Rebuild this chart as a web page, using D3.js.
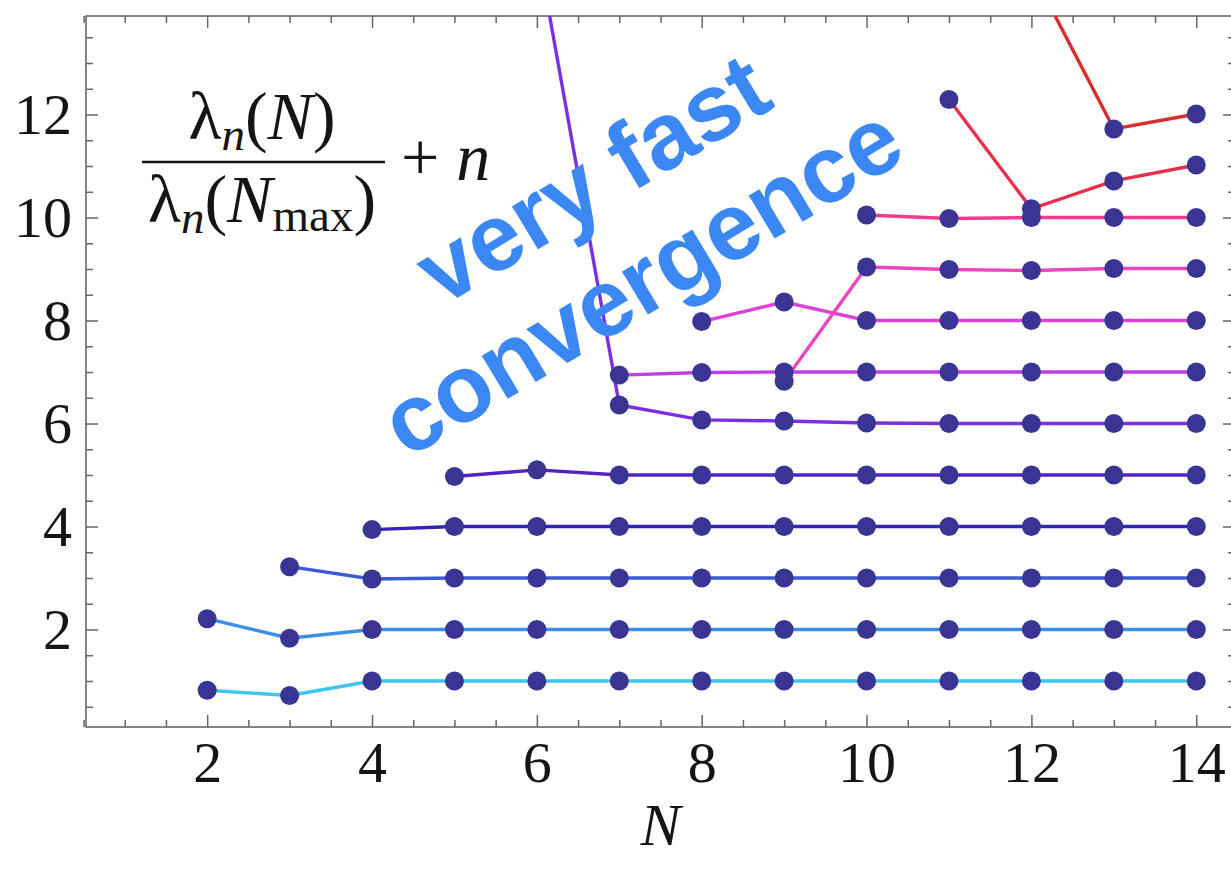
<!DOCTYPE html>
<html>
<head>
<meta charset="utf-8">
<script src="https://cdn.jsdelivr.net/npm/d3@7/dist/d3.min.js"></script>
<style>
  body { margin: 0; background: #fff; }
  .tick text { font-family: "Liberation Serif", "Times New Roman", serif; font-size: 58px; fill: #151515; }
  .tick line { stroke: #666; stroke-width: 1.5; }
  .formula { font-family: "Liberation Serif", "Times New Roman", serif; fill: #151515; }
</style>
</head>
<body>
<svg id="chart" width="1231" height="870"></svg>
<script>
// N values on the horizontal axis
var nValues = [2, 3, 4, 5, 6, 7, 8, 9, 10, 11, 12, 13, 14];

// the first N at which each level n = 1..12 appears
var startN = [2, 2, 3, 4, 5, 6, 7, 8, 9, 10, 11, 12];

// lambda_n(N) / lambda_n(Nmax) + n, one array per level
var level1 = [0.82, 0.72, 1.0, 1.0, 1.0, 1.0, 1.0, 1.0, 1.0, 1.0, 1.0, 1.0, 1.0];
var level2 = [2.21, 1.83, 2.0, 2.0, 2.0, 2.0, 2.0, 2.0, 2.0, 2.0, 2.0, 2.0, 2.0];
var level3 = [3.22, 2.98, 3.0, 3.0, 3.0, 3.0, 3.0, 3.0, 3.0, 3.0, 3.0, 3.0];
var level4 = [3.94, 4.0, 4.0, 4.0, 4.0, 4.0, 4.0, 4.0, 4.0, 4.0, 4.0];
var level5 = [4.97, 5.1, 5.0, 5.0, 5.0, 5.0, 5.0, 5.0, 5.0, 5.0];
var level6 = [15.3, 6.36, 6.07, 6.05, 6.01, 6.0, 6.0, 6.0, 6.0];
var level7 = [6.94, 6.99, 7.0, 7.0, 7.0, 7.0, 7.0, 7.0];
var level8 = [7.98, 8.36, 8.0, 8.0, 8.0, 8.0, 8.0];
var level9 = [6.82, 9.04, 8.99, 8.97, 9.01, 9.01];
var level10 = [10.05, 9.98, 10.0, 10.0, 10.0];
var level11 = [12.29, 10.17, 10.71, 11.02];
var level12 = [14.8, 11.72, 12.01];

// line colour of each level, cyan for n = 1 through purple to red for n = 12
var lineColors = ["#3ec6ef", "#3b8fe6", "#3a5bd6", "#3424b4", "#5222c4", "#7b2fe0",
  "#c23ce6", "#df3fda", "#ee44bc", "#f03c8c", "#e6304c", "#d92c2c"];

// tick values
var xMajorTicks = [2, 4, 6, 8, 10, 12, 14];
var yMajorTicks = [2, 4, 6, 8, 10, 12];
var xMinorTicks = d3.range(0.5, 14.01, 0.5).filter(function(d) { return xMajorTicks.indexOf(d) < 0; });
var yMinorTicks = d3.range(0.5, 13.51, 0.5).filter(function(d) { return yMajorTicks.indexOf(d) < 0; });

var levels = [level1, level2, level3, level4, level5, level6, level7, level8, level9, level10, level11, level12];

// turn every level into a list of {N, value} points
var series = levels.map(function(values, i) {
  return values.map(function(v, j) {
    return {N: startN[i] + j, value: v};
  });
});

// plot frame in pixels (the right frame falls just outside the picture)
var frame = {left: 86, right: 1235, top: 16, bottom: 727};

var svg = d3.select("#chart");

var x = d3.scaleLinear()
  .domain([0.53, 14.47])
  .range([frame.left, frame.right]);

var y = d3.scaleLinear()
  .domain([0.107, 13.913])
  .range([frame.bottom, frame.top]);

svg.append("defs").append("clipPath")
  .attr("id", "plotClip")
  .append("rect")
  .attr("x", frame.left)
  .attr("y", frame.top)
  .attr("width", frame.right - frame.left)
  .attr("height", frame.bottom - frame.top);

// frame
svg.append("rect")
  .attr("x", frame.left)
  .attr("y", frame.top)
  .attr("width", frame.right - frame.left)
  .attr("height", frame.bottom - frame.top)
  .attr("fill", "none")
  .attr("stroke", "#666")
  .attr("stroke-width", 1.6);

// ticks on all four sides pointing inwards, labels only bottom and left
function addAxis(axis, tx, ty) {
  var g = svg.append("g")
    .attr("transform", "translate(" + tx + "," + ty + ")")
    .call(axis);
  g.select(".domain").remove();
  return g;
}

addAxis(d3.axisBottom(x).tickValues(xMajorTicks).tickSize(-12).tickPadding(14), 0, frame.bottom);
addAxis(d3.axisBottom(x).tickValues(xMinorTicks).tickSize(-7).tickFormat(""), 0, frame.bottom);
addAxis(d3.axisTop(x).tickValues(xMajorTicks).tickSize(-12).tickFormat(""), 0, frame.top);
addAxis(d3.axisTop(x).tickValues(xMinorTicks).tickSize(-7).tickFormat(""), 0, frame.top);
addAxis(d3.axisLeft(y).tickValues(yMajorTicks).tickSize(-12).tickPadding(14), frame.left, 0);
addAxis(d3.axisLeft(y).tickValues(yMinorTicks).tickSize(-7).tickFormat(""), frame.left, 0);
addAxis(d3.axisRight(y).tickValues(yMajorTicks).tickSize(-12).tickFormat(""), frame.right, 0);
addAxis(d3.axisRight(y).tickValues(yMinorTicks).tickSize(-7).tickFormat(""), frame.right, 0);

// lines and points, clipped to the frame
var plot = svg.append("g").attr("clip-path", "url(#plotClip)");

var line = d3.line()
  .x(function(d) { return x(d.N); })
  .y(function(d) { return y(d.value); });

plot.selectAll(".level")
  .data(series)
  .enter()
  .append("path")
  .attr("class", "level")
  .attr("d", line)
  .attr("fill", "none")
  .attr("stroke", function(d, i) { return lineColors[i]; })
  .attr("stroke-width", 3.4);

plot.selectAll(".dot")
  .data(d3.merge(series))
  .enter()
  .append("circle")
  .attr("class", "dot")
  .attr("cx", function(d) { return x(d.N); })
  .attr("cy", function(d) { return y(d.value); })
  .attr("r", 9.5)
  .attr("fill", "#3a3594");

// y label: lambda_n(N) / lambda_n(Nmax) + n
var formula = svg.append("g").attr("class", "formula");

var num = formula.append("text")
  .attr("x", 262)
  .attr("y", 139)
  .attr("text-anchor", "middle")
  .attr("font-size", 68);
num.append("tspan").text("λ");
num.append("tspan").attr("font-style", "italic").attr("font-size", 47).attr("dy", 11).text("n");
num.append("tspan").attr("dy", -11).text("(");
num.append("tspan").attr("font-style", "italic").text("N");
num.append("tspan").text(")");

formula.append("line")
  .attr("x1", 142)
  .attr("x2", 385)
  .attr("y1", 162)
  .attr("y2", 162)
  .attr("stroke", "#151515")
  .attr("stroke-width", 2.5);

var den = formula.append("text")
  .attr("x", 262)
  .attr("y", 222)
  .attr("text-anchor", "middle")
  .attr("font-size", 68);
den.append("tspan").text("λ");
den.append("tspan").attr("font-style", "italic").attr("font-size", 47).attr("dy", 11).text("n");
den.append("tspan").attr("dy", -11).text("(");
den.append("tspan").attr("font-style", "italic").text("N");
den.append("tspan").attr("font-size", 47).attr("dy", 9).text("max");
den.append("tspan").attr("dy", -9).text(")");

var plus = formula.append("text")
  .attr("x", 401)
  .attr("y", 180)
  .attr("font-size", 68);
plus.append("tspan").text("+ ");
plus.append("tspan").attr("font-style", "italic").text("n");

// x label
svg.append("text")
  .attr("x", x(7.5))
  .attr("y", 845)
  .attr("text-anchor", "middle")
  .attr("font-family", "Liberation Serif, Times New Roman, serif")
  .attr("font-style", "italic")
  .attr("font-size", 60)
  .attr("fill", "#151515")
  .text("N");

// annotation
var note = [
  {text: "very fast", cx: 592, cy: 178},
  {text: "convergence", cx: 641, cy: 280}
];

svg.selectAll(".note")
  .data(note)
  .enter()
  .append("text")
  .attr("class", "note")
  .attr("transform", function(d) { return "translate(" + d.cx + "," + d.cy + ") rotate(-31)"; })
  .attr("text-anchor", "middle")
  .attr("dy", "0.35em")
  .attr("font-family", "Liberation Sans, Arial, Helvetica, sans-serif")
  .attr("font-weight", "bold")
  .attr("font-size", 95)
  .attr("fill", "#3b88f5")
  .text(function(d) { return d.text; });
</script>
</body>
</html>
